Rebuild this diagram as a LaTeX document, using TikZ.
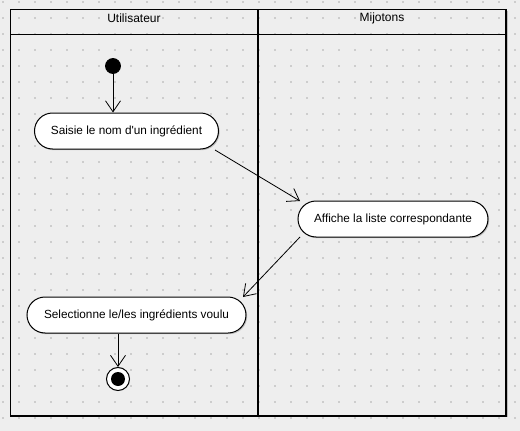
\documentclass[tikz,border=0pt]{standalone}
\usepackage{fontspec}
\setmainfont{Liberation Sans}
\usetikzlibrary{shapes.misc,arrows.meta,shadows}
\definecolor{bgc}{HTML}{EEEEEE}
\definecolor{dotc}{HTML}{CDCDCD}
\tikzset{
  act/.style={rounded rectangle, draw=black, line width=1pt, fill=white,
    inner sep=0pt, font=\fontsize{11.8}{14}\selectfont,
    drop shadow={shadow xshift=1.2pt, shadow yshift=-1.2pt, fill=black!25, opacity=1}},
  flow/.style={draw=black, line width=0.8pt, -{Straight Barb[length=11pt,width=15pt,line width=0.8pt]}},
  lane/.style={draw=black, line width=1.3pt},
  title/.style={font=\fontsize{12}{14}\selectfont, inner sep=0pt}
}
\begin{document}
\begin{tikzpicture}[x=1pt,y=-1pt]
\useasboundingbox (0,0) rectangle (520,431);
\fill[bgc] (0,0) rectangle (520,431);
% dots
\foreach \i in {0,...,32} {
  \foreach \j in {0,...,26} {
    \fill[dotc] ({3+16*\i-0.7},{2+16*\j-0.7}) rectangle ({3+16*\i+0.7},{2+16*\j+0.7});
  }
}
% frame shadow
\draw[black!25, line width=1.2pt] (12.5,416.5) -- (507.5,416.5) -- (507.5,11);
% swimlanes
\draw[lane] (10.5,9.5) rectangle (506,416);
\draw[lane] (10.5,34.5) -- (506,34.5);
\draw[lane] (258,9.5) -- (258,416);
\node[title] (t1) at (134,18) {Utilisateur};
\node[title] (t2) at (382,18) {Mijotons};
% nodes
\node[circle, fill=black, draw=black, line width=0.8pt, minimum size=15pt, inner sep=0pt] (init) at (113,66) {};
\node[act, minimum width=184pt, minimum height=36pt] (a1) at (126.5,131) {Saisie le nom d\textquotesingle un ingrédient};
\node[act, minimum width=190pt, minimum height=36pt] (a2) at (393,219) {Affiche la liste correspondante};
\node[act, minimum width=219pt, minimum height=36pt] (a3) at (136.5,315) {Selectionne le/les ingrédients voulu};
\node[circle, fill=white, draw=black, line width=1pt, minimum size=23pt, inner sep=0pt] (fin) at (118,379) {};
\node[circle, fill=black, minimum size=14pt, inner sep=0pt] (finin) at (fin.center) {};
\coordinate (a1o) at (215,150);
\coordinate (a2i) at (300,201);
\coordinate (a2o) at (300,237);
\coordinate (a3i) at (243,297);
% connectors
\draw[flow] (init.south) -- (init.south |- a1.north);
\draw[flow] (a1o) -- (a2i);
\draw[flow] (a2o) -- (a3i);
\draw[flow] (a3.south -| fin.north) -- (fin.north);
\end{tikzpicture}
\end{document}
